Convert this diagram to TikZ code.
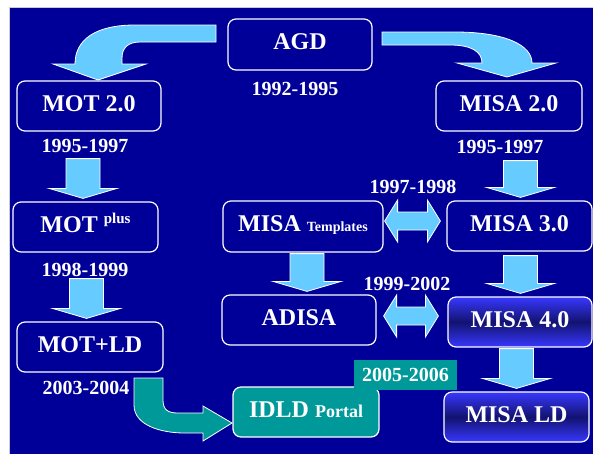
\documentclass[tikz,border=0pt]{standalone}
\usepackage{fontspec}
\setmainfont{Liberation Serif}
\usetikzlibrary{calc}
\definecolor{slideblue}{RGB}{0,0,153}
\definecolor{skyarrow}{RGB}{102,204,255}
\definecolor{idldteal}{RGB}{0,153,153}
\definecolor{shadetop}{RGB}{56,56,255}
\definecolor{shademid}{RGB}{18,18,112}

\tikzset{
  stage/.style={draw=white, line width=1.2pt, rounded corners=8pt, fill=slideblue, text=white,
    font=\fontsize{24}{24}\selectfont\bfseries, minimum height=50pt, inner sep=0pt,
    text height=16pt, text depth=6pt},
  stagedark/.style={stage, top color=shadetop, bottom color=shadetop, middle color=shademid},
  years/.style={text=white, font=\fontsize{20}{20}\selectfont\bfseries, inner sep=0pt},
  blockarrow/.style={draw=white, line width=0.8pt, fill=skyarrow},
}

% straight block arrow from one box down to the next
\newcommand{\blockdown}[4]{%
  \draw[blockarrow] let \p1=(#1.south), \p2=(#2.north) in
    (\x2+#3pt-17pt,\y1-#4pt) -- (\x2+#3pt+17pt,\y1-#4pt) -- (\x2+#3pt+17pt,\y2+13pt)
    -- (\x2+#3pt+34pt,\y2+13pt) -- (\x2+#3pt,\y2+3pt) -- (\x2+#3pt-34pt,\y2+13pt)
    -- (\x2+#3pt-17pt,\y2+13pt) -- cycle;}
% two-headed block arrow
\newcommand{\blockboth}[2]{%
  \draw[blockarrow] let \p1=#1, \p2=#2 in
    (\x1,\y1) -- (\x1+13pt,\y1+21pt) -- (\x1+13pt,\y1+9pt) -- (\x2-13pt,\y1+9pt)
    -- (\x2-13pt,\y1+21pt) -- (\x2,\y1) -- (\x2-13pt,\y1-21pt) -- (\x2-13pt,\y1-9pt)
    -- (\x1+13pt,\y1-9pt) -- (\x1+13pt,\y1-21pt) -- cycle;}

\begin{document}
\begin{tikzpicture}[x=1pt,y=-1pt]
  \useasboundingbox (0,0) rectangle (593,453);
  \fill[white] (0,0) rectangle (593,453);
  \filldraw[fill=slideblue, draw=gray!40, line width=0.6pt] (9,7) rectangle (593,454);

  % boxes
  \node[stage, minimum width=144pt, minimum height=51pt] (agd) at (300,44.5) {AGD};
  \node[stage, minimum width=144pt] (mot2) at (89,106) {MOT 2.0};
  \node[stage, minimum width=146pt] (misa2) at (509,106) {MISA 2.0};
  \node[stage, minimum width=145pt] (motplus) at (85.5,227) {MOT \raisebox{9pt}{\fontsize{15}{15}\selectfont plus}};
  \node[stage, minimum width=160pt, minimum height=51pt] (tmpl) at (303,226.5) {MISA {\fontsize{14}{14}\selectfont Templates}};
  \node[stage, minimum width=145pt] (misa3) at (519.5,226) {MISA 3.0};
  \node[stage, minimum width=154pt] (adisa) at (299,320) {ADISA};
  \node[stagedark, minimum width=144pt] (misa4) at (520,322) {MISA 4.0};
  \node[stage, minimum width=146pt] (motld) at (90,347) {MOT+LD};
  \node[stage, fill=idldteal, minimum width=146pt] (idld) at (306,412) {IDLD {\fontsize{18}{18}\selectfont Portal}};
  \node[stagedark, minimum width=145pt] (misald) at (516.5,417) {MISA LD};
  \node[years, fill=idldteal, minimum width=103pt, minimum height=30pt] (y0506) at (405.5,375) {2005-2006};

  % years
  \node[years] (y9295) at (295,89) {1992-1995};
  \node[years] (y9597a) at (85,146) {1995-1997};
  \node[years] (y9597b) at (500,147) {1995-1997};
  \node[years] (y9899) at (85,270) {1998-1999};
  \node[years] (y9798) at (413,187) {1997-1998};
  \node[years] (y9902) at (407,284) {1999-2002};
  \node[years] (y0304) at (86,388) {2003-2004};

  % curved arrows out of AGD
  \draw[blockarrow] (216,25) -- (135,25) .. controls (95,25) and (75,40) .. (75,64) -- (53,64)
    -- (98,80) -- (146,64) -- (122,64) -- (122,58) .. controls (122,48) and (128,42) .. (140,42) -- (216,42) -- cycle;
  \draw[blockarrow] (382,32) -- (455,32) .. controls (505,32) and (532,45) .. (532,63) -- (556,63)
    -- (507,77) -- (457,63) -- (482,63) .. controls (482,52) and (472,45) .. (450,45) -- (382,45) -- cycle;

  % straight arrows
  \blockdown{mot2}{motplus}{-2.5}{27}
  \blockdown{motplus}{motld}{-3.5}{26}
  \blockdown{misa2}{misa3}{1}{29}
  \blockdown{misa3}{misa4}{0.5}{4}
  \blockdown{misa4}{misald}{0}{1}
  \blockdown{tmpl}{adisa}{8}{1}
  \blockboth{([shift={(1,-5.5)}]tmpl.east)}{([xshift=-6pt]misa3.west)}
  \blockboth{([shift={(7,-4)}]adisa.east)}{([xshift=-9pt]misa4.west)}

  % MOT+LD to IDLD Portal
  \draw[draw=white, line width=0.8pt, fill=idldteal] (134,378) -- (163,378) -- (163,400)
    .. controls (163,410) and (168,413) .. (178,413) -- (203,413) -- (203,406) -- (232,423)
    -- (203,441) -- (203,433) -- (185,433) .. controls (160,433) and (134,425) .. (134,405) -- cycle;
\end{tikzpicture}
\end{document}
